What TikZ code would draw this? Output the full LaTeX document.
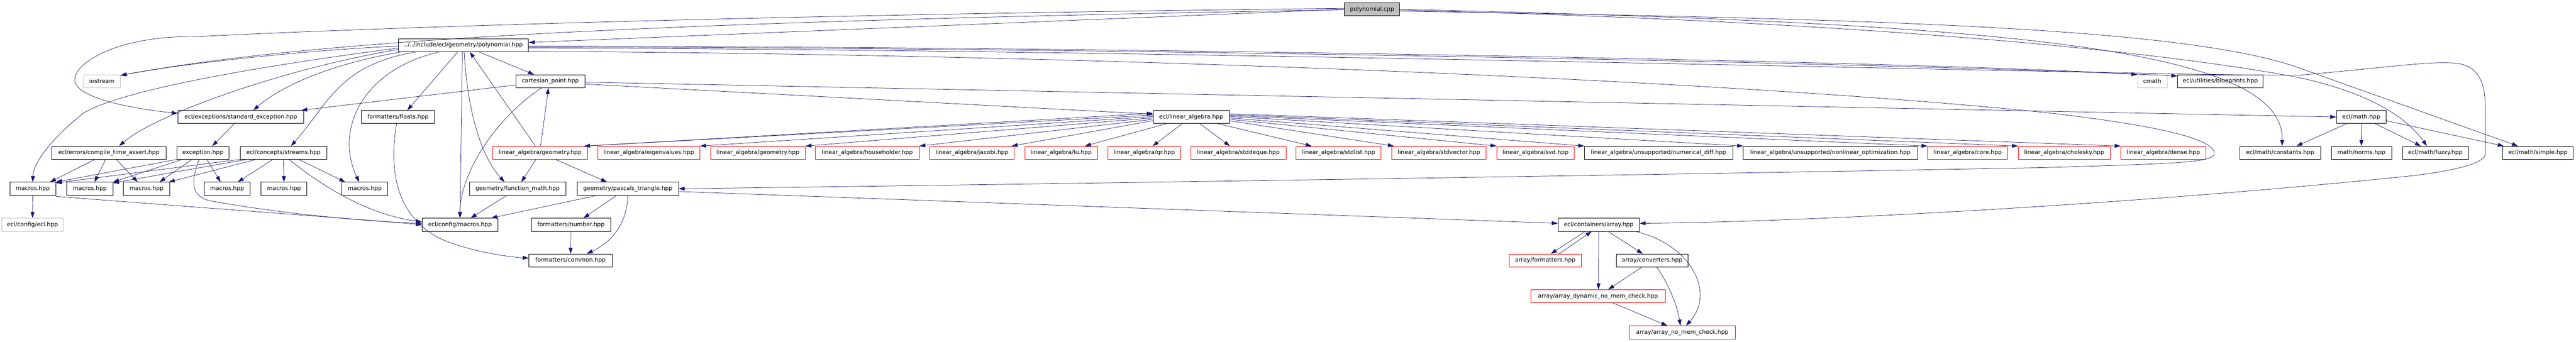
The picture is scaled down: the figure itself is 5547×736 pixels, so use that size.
\documentclass[tikz,border=0pt]{standalone}
\usepackage{fontspec}
\newfontfamily\doxfont{DejaVu Sans}
\usetikzlibrary{arrows.meta}
\definecolor{edgeblue}{HTML}{191970}
\definecolor{extgray}{HTML}{BFBFBF}
\begin{document}
\begin{tikzpicture}[x=1pt,y=-1pt,
    file/.style={draw=black,fill=white,line width=0.8pt,rectangle,minimum height=28pt,inner sep=0pt,font=\doxfont\fontsize{12.4pt}{14pt}\selectfont},
    trunc/.style={file,draw=red},
    ext/.style={file,draw=extgray},
    root/.style={file,fill=extgray},
    inc/.style={draw=edgeblue,line width=0.8pt,-{Triangle[length=13pt,width=8.5pt]}}]
        %% Page
        \fill[white] (0,0) rectangle (5547,736);
        \useasboundingbox (0,0) rectangle (5547,736);
        %% Row 0 and 1
        \node[root,minimum width=119pt] (PC) at (2954.5,20) {polynomial.cpp};
        \node[file,minimum width=280pt] (PH) at (998,97.5) {../../include/ecl/geometry/polynomial.hpp};
        %% Row 2
        \node[ext,minimum width=79pt] (iostream) at (219.5,175) {iostream};
        \node[file,minimum width=148pt] (cart) at (1185,175) {cartesian\_point.hpp};
        \node[ext,minimum width=63pt] (cmath) at (4634.5,175) {cmath};
        \node[file,minimum width=184pt] (blueprints) at (4781,175) {ecl/utilities/blueprints.hpp};
        %% Row 3
        \node[file,minimum width=271pt] (stdexc) at (518.5,252) {ecl/exceptions/standard\_exception.hpp};
        \node[file,minimum width=158pt] (floats) at (857,252) {formatters/floats.hpp};
        \node[file,minimum width=164pt] (LA) at (2565,252) {ecl/linear\_algebra.hpp};
        \node[file,minimum width=107pt] (mathhpp) at (5084.5,252) {ecl/math.hpp};
        %% Row 4
        \node[file,minimum width=247pt] (compile) at (234.5,329) {ecl/errors/compile\_time\_assert.hpp};
        \node[file,minimum width=112pt] (exception) at (437,329) {exception.hpp};
        \node[file,minimum width=187pt] (streams) at (610.5,329) {ecl/concepts/streams.hpp};
        \node[trunc,minimum width=204pt] (LG1) at (1163,329) {linear\_algebra/geometry.hpp};
        \node[trunc,minimum width=220pt] (eigen) at (1397,329) {linear\_algebra/eigenvalues.hpp};
        \node[trunc,minimum width=204pt] (LG2) at (1632,329) {linear\_algebra/geometry.hpp};
        \node[trunc,minimum width=223pt] (householder) at (1867.5,329) {linear\_algebra/householder.hpp};
        \node[trunc,minimum width=182pt] (jacobi) at (2093,329) {linear\_algebra/jacobi.hpp};
        \node[trunc,minimum width=156pt] (lu) at (2285,329) {linear\_algebra/lu.hpp};
        \node[trunc,minimum width=156pt] (qr) at (2464,329) {linear\_algebra/qr.hpp};
        \node[trunc,minimum width=205pt] (stddeque) at (2666.5,329) {linear\_algebra/stddeque.hpp};
        \node[trunc,minimum width=183pt] (stdlist) at (2882.5,329) {linear\_algebra/stdlist.hpp};
        \node[trunc,minimum width=203pt] (stdvector) at (3098.5,329) {linear\_algebra/stdvector.hpp};
        \node[trunc,minimum width=167pt] (svd) at (3306.5,329) {linear\_algebra/svd.hpp};
        \node[file,minimum width=319pt] (numdiff) at (3571.5,329) {linear\_algebra/unsupported/numerical\_diff.hpp};
        \node[file,minimum width=375pt] (nonlin) at (3941.5,329) {linear\_algebra/unsupported/nonlinear\_optimization.hpp};
        \node[trunc,minimum width=172pt] (core) at (4237,329) {linear\_algebra/core.hpp};
        \node[trunc,minimum width=198pt] (cholesky) at (4445,329) {linear\_algebra/cholesky.hpp};
        \node[trunc,minimum width=183pt] (dense) at (4658.5,329) {linear\_algebra/dense.hpp};
        \node[file,minimum width=174pt] (constants) at (4910,329) {ecl/math/constants.hpp};
        \node[file,minimum width=130pt] (norms) at (5085,329) {math/norms.hpp};
        \node[file,minimum width=142pt] (fuzzy) at (5244,329) {ecl/math/fuzzy.hpp};
        \node[file,minimum width=152pt] (simple) at (5465,329) {ecl/math/simple.hpp};
        %% Row 5
        \node[file,minimum width=99pt] (m1) at (70.5,406.5) {macros.hpp};
        \node[file,minimum width=99pt] (m2) at (193.5,406.5) {macros.hpp};
        \node[file,minimum width=99pt] (m3) at (315.5,406.5) {macros.hpp};
        \node[file,minimum width=99pt] (m4) at (489,406.5) {macros.hpp};
        \node[file,minimum width=99pt] (m5) at (611.5,406.5) {macros.hpp};
        \node[file,minimum width=99pt] (m6) at (785.5,406.5) {macros.hpp};
        \node[file,minimum width=207pt] (funcmath) at (1114.5,406.5) {geometry/function\_math.hpp};
        \node[file,minimum width=218pt] (pascal) at (1352,406.5) {geometry/pascals\_triangle.hpp};
        %% Row 6 to 9
        \node[ext,minimum width=132pt] (ecl) at (70,484) {ecl/config/ecl.hpp};
        \node[file,minimum width=163pt] (cfgmacros) at (990.5,484) {ecl/config/macros.hpp};
        \node[file,minimum width=171pt] (number) at (1229.5,484) {formatters/number.hpp};
        \node[file,minimum width=175pt] (AR) at (3442.5,484) {ecl/containers/array.hpp};
        \node[file,minimum width=179pt] (common) at (1228.5,561) {formatters/common.hpp};
        \node[trunc,minimum width=155pt] (afmt) at (3327.5,561) {array/formatters.hpp};
        \node[file,minimum width=155pt] (conv) at (3557.5,561) {array/converters.hpp};
        \node[trunc,minimum width=290pt] (dyn) at (3441,638) {array/array\_dynamic\_no\_mem\_check.hpp};
        \node[trunc,minimum width=229pt] (nomem) at (3622.5,716) {array/array\_no\_mem\_check.hpp};
        %% polynomial.cpp
        \draw[inc] (PC.west) -- ([yshift=6pt]PH.east);
        \draw[inc] ([yshift=-1pt]PC.west) .. controls (1500,45) and (700,80) .. ([yshift=-2pt]iostream.north east);
        \draw[inc] ([yshift=2pt]PC.west) .. controls (1800,30) and (900,55) .. (420,79) .. controls (250,76) and (150,140) .. (162,178) .. controls (175,215) and (300,236) .. ([yshift=8pt]stdexc.west);
        \draw[inc] (PC.east) .. controls (4300,50) and (4920,100) .. ([xshift=4pt]constants.north);
        \draw[inc] ([yshift=-2pt]PC.east) .. controls (4000,45) and (4650,110) .. (4950,167) .. controls (5100,200) and (5180,250) .. ([xshift=-18pt]fuzzy.north);
        \draw[inc] ([yshift=-4pt]PC.east) .. controls (4000,40) and (4700,57) .. (4950,146) -- ([xshift=-43pt]simple.north);
        %% polynomial.hpp
        \draw[inc] ([yshift=-2pt]PH.west) .. controls (700,105) and (400,135) .. ([yshift=-2pt]iostream.north east);
        \draw[inc] ([yshift=-6pt]PH.west) .. controls (500,150) and (250,200) .. (179,244) .. controls (110,300) and (72,350) .. (m1.north);
        \draw[inc] ([yshift=-9pt]PH.west) .. controls (600,150) and (330,250) .. ([xshift=22pt]compile.north);
        \draw[inc] ([xshift=6pt]PH.south west) .. controls (700,140) and (600,190) .. ([xshift=27pt]stdexc.north);
        \draw[inc] ([xshift=38pt]PH.south west) .. controls (730,140) and (710,220) .. ([xshift=16pt]streams.north);
        \draw[inc] ([xshift=88pt]PH.south west) .. controls (780,150) and (720,280) .. ([xshift=-12pt]m6.north);
        \draw[inc] ([xshift=128pt]PH.south west) -- ([xshift=20pt]floats.north);
        \draw[inc] ([xshift=138pt]PH.south west) -- (cfgmacros.north);
        \draw[inc] ([xshift=142pt]PH.south west) .. controls (1005,220) and (1030,330) .. ([xshift=-28pt]funcmath.north);
        \draw[inc] ([xshift=174pt]PH.south west) -- ([xshift=-35pt]cart.north);
        \draw[inc] ([yshift=-2pt]PH.east) .. controls (2500,100) and (4200,135) .. (cmath.north west);
        \draw[inc] ([yshift=-4pt]PH.east) .. controls (2500,102) and (4200,140) .. ([yshift=-3pt]blueprints.north west);
        \draw[inc] ([yshift=-6pt]PH.east) .. controls (2500,105) and (4700,165) .. (4950,162) .. controls (5150,145) and (5250,128) .. (5300,138) .. controls (5345,150) and (5352,190) .. (5352,240) -- (5352,330) .. controls (5352,350) and (5300,365) .. (5200,378) .. controls (4600,440) and (3900,478) .. ([yshift=3pt]AR.east);
        \draw[inc] ([yshift=-13pt]PH.east) .. controls (2500,118) and (3800,180) .. (4400,242) .. controls (4650,270) and (4768,300) .. (4768,330) .. controls (4768,350) and (4700,352) .. (4400,361) .. controls (3500,378) and (2000,400) .. (pascal.east);
        %% cartesian_point.hpp
        \draw[inc] ([yshift=-8pt]cart.west) -- ([xshift=-6pt]stdexc.north east);
        \draw[inc] ([xshift=-19pt]cart.south) .. controls (1060,260) and (990,380) .. (cfgmacros.north);
        \draw[inc] ([yshift=-6pt]cart.east) -- ([yshift=6pt]LA.west);
        \draw[inc] ([yshift=-2pt]cart.east) -- (mathhpp.west);
        %% linear_algebra/geometry.hpp
        \draw[inc] ([xshift=-10pt]LG1.north) -- ([xshift=154pt]PH.south west);
        \draw[inc] ([xshift=1pt]LG1.north) -- ([xshift=-4pt]cart.south);
        \draw[inc] ([xshift=-9pt]LG1.south) -- ([xshift=8pt]funcmath.north);
        \draw[inc] ([xshift=33pt]LG1.south) -- ([xshift=-45pt]pascal.north);
        \draw[inc] ([xshift=-2pt]LG1.north east) -- ([yshift=8pt]LA.west);
        %% ecl/linear_algebra.hpp
        \draw[inc] ([yshift=4pt]LA.west) -- ([xshift=-8pt]LG1.north east);
        \draw[inc] ([yshift=1pt]LA.west) -- (eigen.north east);
        \draw[inc] ([yshift=-2pt]LA.west) -- (LG2.north east);
        \draw[inc] ([yshift=-5pt]LA.west) -- (householder.north east);
        \draw[inc] ([yshift=-8pt]LA.west) -- ([xshift=-6pt]jacobi.north east);
        \draw[inc] ([xshift=29pt]LA.south west) -- ([xshift=51pt]lu.north);
        \draw[inc] ([xshift=63pt]LA.south west) -- ([xshift=18pt]qr.north);
        \draw[inc] ([xshift=101pt]LA.south west) -- ([xshift=-18pt]stddeque.north);
        \draw[inc] ([xshift=140pt]LA.south west) -- ([xshift=-58pt]stdlist.north);
        \draw[inc] ([yshift=-8pt]LA.east) -- ([xshift=5pt]stdvector.north west);
        \draw[inc] ([yshift=-5pt]LA.east) -- (svd.north west);
        \draw[inc] ([yshift=-2pt]LA.east) -- (numdiff.north west);
        \draw[inc] ([yshift=1pt]LA.east) -- (nonlin.north west);
        \draw[inc] ([yshift=3pt]LA.east) -- (core.north west);
        \draw[inc] ([yshift=5pt]LA.east) -- (cholesky.north west);
        \draw[inc] ([yshift=7pt]LA.east) -- (dense.north west);
        %% Exceptions, errors and concepts
        \draw[inc] ([xshift=-14pt]stdexc.south) -- ([xshift=20pt]exception.north);
        \draw[inc] (exception.south west) -- (m1.north east);
        \draw[inc] ([xshift=12pt]exception.south west) -- (m2.north east);
        \draw[inc] ([xshift=33pt]exception.south west) -- ([xshift=28pt]m3.north);
        \draw[inc] ([xshift=65pt]exception.south west) -- ([xshift=-14pt]m4.north);
        \draw[inc] ([xshift=-8pt]exception.south) .. controls (415,380) and (405,420) .. (450,432) .. controls (600,460) and (800,478) .. ([yshift=3pt]cfgmacros.west);
        \draw[inc] ([xshift=-30pt]compile.south) -- ([xshift=37pt]m1.north);
        \draw[inc] ([xshift=-7pt]compile.south) -- ([xshift=10pt]m2.north);
        \draw[inc] ([xshift=16pt]compile.south) -- ([xshift=-19pt]m3.north);
        \draw[inc] (streams.south west) -- ([yshift=-2pt]m1.north east);
        \draw[inc] ([xshift=15pt]streams.south west) -- ([yshift=-2pt]m2.north east);
        \draw[inc] ([xshift=35pt]streams.south west) -- ([xshift=-2pt]m3.north east);
        \draw[inc] ([xshift=-23pt]streams.south) -- ([xshift=23pt]m4.north);
        \draw[inc] (streams.south) -- (m5.north);
        \draw[inc] ([xshift=33pt]streams.south) -- ([xshift=-42pt]m6.north);
        \draw[inc] ([xshift=12pt]streams.south) .. controls (680,390) and (780,460) .. ([yshift=6pt]cfgmacros.west);
        \draw[inc] (m1) -- (ecl);
        \draw[inc] ([yshift=-2pt]m1.south east) .. controls (400,445) and (750,470) .. (cfgmacros.west);
        %% Formatters and geometry
        \draw[inc] ([xshift=-23pt]funcmath.south) -- ([xshift=23pt]cfgmacros.north);
        \draw[inc] ([xshift=-3pt]floats.south) .. controls (835,380) and (860,470) .. (950,515) .. controls (1010,540) and (1080,552) .. ([yshift=5pt]common.west);
        \draw[inc] ([xshift=-66pt]pascal.south) -- ([xshift=-15pt]cfgmacros.north east);
        \draw[inc] ([xshift=-24pt]pascal.south) -- ([xshift=27pt]number.north);
        \draw[inc] (pascal.south) .. controls (1350,480) and (1320,520) .. ([xshift=35pt]common.north);
        \draw[inc] ([yshift=-6pt]pascal.east) -- ([yshift=3pt]AR.west);
        \draw[inc] (number) -- (common);
        %% ecl/math.hpp
        \draw[inc] ([xshift=-31pt]mathhpp.south) -- ([xshift=35pt]constants.north);
        \draw[inc] (mathhpp) -- (norms);
        \draw[inc] ([xshift=30pt]mathhpp.south) -- ([xshift=-31pt]fuzzy.north);
        \draw[inc] ([yshift=-8pt]mathhpp.east) -- ([xshift=3pt]simple.north west);
        %% Arrays
        \draw[inc] ([xshift=-29pt]AR.south) -- ([xshift=12pt]afmt.north);
        \draw[inc] ([xshift=30pt]afmt.north) -- ([xshift=-15pt]AR.south);
        \draw[inc] (AR.south) -- ([xshift=1pt]dyn.north);
        \draw[inc] ([xshift=20pt]AR.south) -- ([xshift=-20pt]conv.north);
        \draw[inc] ([xshift=78pt]AR.south) .. controls (3640,525) and (3695,630) .. ([xshift=8pt]nomem.north);
        \draw[inc] ([xshift=-22pt]conv.south) -- ([xshift=22pt]dyn.north);
        \draw[inc] ([xshift=10pt]conv.south) .. controls (3595,615) and (3612,660) .. ([xshift=-4pt]nomem.north);
        \draw[inc] ([xshift=32pt]dyn.south) -- ([xshift=-32pt]nomem.north);
    \end{tikzpicture}
\end{document}
